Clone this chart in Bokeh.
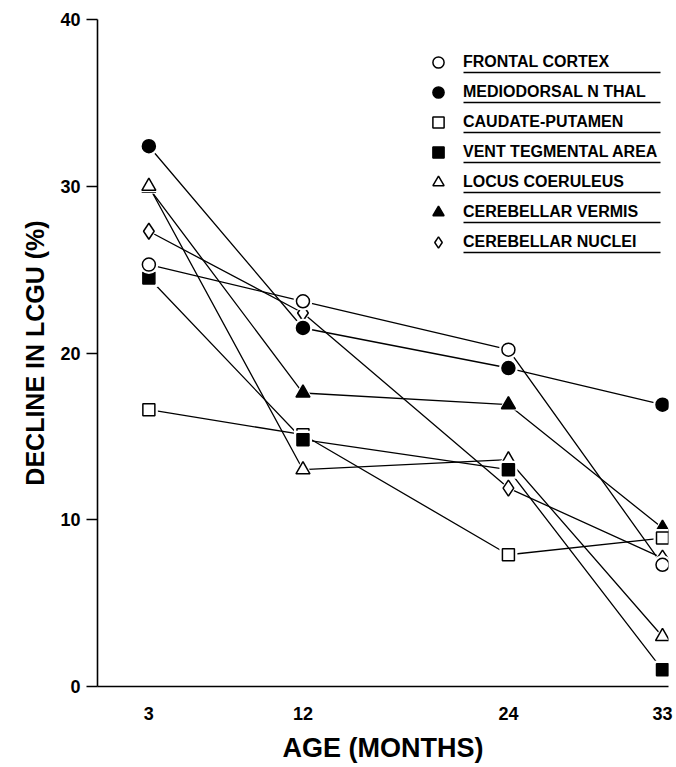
from bokeh.plotting import figure
from bokeh.models import Range1d, FixedTicker, Legend, LegendItem, BoxAnnotation
from bokeh.embed import file_html
from bokeh.resources import INLINE

# ---- data ----
months = [3, 12, 24, 33]
frontal_cortex = [25.3, 23.1, 20.2, 7.3]
mediodorsal_n_thal = [32.4, 21.5, 19.1, 16.9]
caudate_putamen = [16.6, 15.1, 7.9, 8.9]
vent_tegmental_area = [24.5, 14.8, 13.0, 1.0]
locus_coeruleus = [30.0, 13.0, 13.6, 3.0]
cerebellar_vermis = [29.9, 17.6, 16.9, 9.5]
cerebellar_nuclei = [27.3, 22.4, 11.9, 7.7]

labels = ["FRONTAL CORTEX", "MEDIODORSAL N THAL", "CAUDATE-PUTAMEN",
          "VENT TEGMENTAL AREA", "LOCUS COERULEUS", "CEREBELLAR VERMIS",
          "CEREBELLAR NUCLEI"]
y_ticks = [0, 10, 20, 30, 40]

series = {
    "FRONTAL CORTEX": frontal_cortex,
    "MEDIODORSAL N THAL": mediodorsal_n_thal,
    "CAUDATE-PUTAMEN": caudate_putamen,
    "VENT TEGMENTAL AREA": vent_tegmental_area,
    "LOCUS COERULEUS": locus_coeruleus,
    "CEREBELLAR VERMIS": cerebellar_vermis,
    "CEREBELLAR NUCLEI": cerebellar_nuclei,
}

# marker, fill, size
style = {
    "FRONTAL CORTEX": ("circle", "white", 13),
    "MEDIODORSAL N THAL": ("circle", "black", 13),
    "CAUDATE-PUTAMEN": ("square", "white", 12),
    "VENT TEGMENTAL AREA": ("square", "black", 12),
    "LOCUS COERULEUS": ("triangle", "white", 14),
    "CEREBELLAR VERMIS": ("triangle", "black", 14),
    "CEREBELLAR NUCLEI": ("diamond", "white", 16),
}
draw_order = ["CEREBELLAR VERMIS", "LOCUS COERULEUS", "CEREBELLAR NUCLEI",
              "CAUDATE-PUTAMEN", "VENT TEGMENTAL AREA", "MEDIODORSAL N THAL",
              "FRONTAL CORTEX"]

W, H = 676, 767
BL, BR, BT, BB = 97, 8, 19, 81
X0, X1 = 0, 33.35
Y0, Y1 = 0, 40

p = figure(width=W, height=H, x_range=Range1d(X0, X1), y_range=Range1d(Y0, Y1),
           output_backend="svg", toolbar_location=None,
           min_border_left=BL, min_border_right=BR, min_border_top=BT,
           min_border_bottom=BB)
p.outline_line_color = None
p.grid.visible = False
p.background_fill_color = "white"
p.border_fill_color = "white"

FONT = "Liberation Sans"

# x axis
xa = p.xaxis[0]
xa.ticker = FixedTicker(ticks=months)
xa.major_tick_line_color = None
xa.minor_tick_line_color = None
xa.major_tick_out = 0
xa.major_tick_in = 0
xa.axis_line_width = 1.6
xa.major_label_text_font = FONT
xa.major_label_text_font_style = "bold"
xa.major_label_text_font_size = "18px"
xa.major_label_text_color = "black"
xa.major_label_standoff = 20
xa.axis_label = "AGE (MONTHS)"
xa.axis_label_text_font = FONT
xa.axis_label_text_font_style = "bold"
xa.axis_label_text_font_size = "27px"
xa.axis_label_text_color = "black"
xa.axis_label_standoff = 10

# y axis
ya = p.yaxis[0]
ya.ticker = FixedTicker(ticks=y_ticks)
ya.minor_tick_line_color = None
ya.major_tick_out = 11
ya.major_tick_in = 0
ya.major_tick_line_width = 1.5
ya.axis_line_width = 1.6
ya.major_label_text_font = FONT
ya.major_label_text_font_style = "bold"
ya.major_label_text_font_size = "18px"
ya.major_label_text_color = "black"
ya.major_label_standoff = 6
ya.axis_label = "DECLINE IN LCGU (%)"
ya.axis_label_text_font = FONT
ya.axis_label_text_font_style = "bold"
ya.axis_label_text_font_size = "25px"
ya.axis_label_text_color = "black"
ya.axis_label_standoff = 8

# lines
for name in draw_order:
    p.line(months, series[name], line_color="black", line_width=1.3)

renderers = {}
for name in draw_order:
    m, fc, s = style[name]
    p.scatter(months, series[name], marker=m, size=s + 6,
              fill_color="white", line_color=None)
    renderers[name] = p.scatter(months, series[name], marker=m, size=s,
                                fill_color=fc, line_color="black", line_width=1.5)

# legend
GH, SP = 28, 2
legend = Legend(items=[LegendItem(label=n, renderers=[renderers[n]]) for n in labels],
                location=(327, 430), orientation="vertical",
                glyph_width=GH, glyph_height=GH, spacing=SP, label_standoff=11,
                padding=0, margin=0, border_line_color=None,
                background_fill_alpha=0,
                label_text_font=FONT, label_text_font_style="bold",
                label_text_font_size="16px", label_text_color="black",
                label_height=GH)
p.add_layout(legend, "center")

# underlines beneath legend labels (layout in pixels -> data)
frame_w = W - BL - BR
frame_h = H - BT - BB
ppx = frame_w / (X1 - X0)
ppy = frame_h / (Y1 - Y0)
first_center = 43
for k in range(len(labels)):
    yp = first_center + k * (GH + SP) + 10
    top = Y1 - (yp - 0.75) / ppy
    bot = Y1 - (yp + 0.75) / ppy
    p.add_layout(BoxAnnotation(left=366 / ppx, right=563 / ppx, top=top, bottom=bot,
                               fill_color="black", fill_alpha=1, line_color=None,
                               level="overlay"))

open("out.html", "w").write(file_html(p, INLINE))
